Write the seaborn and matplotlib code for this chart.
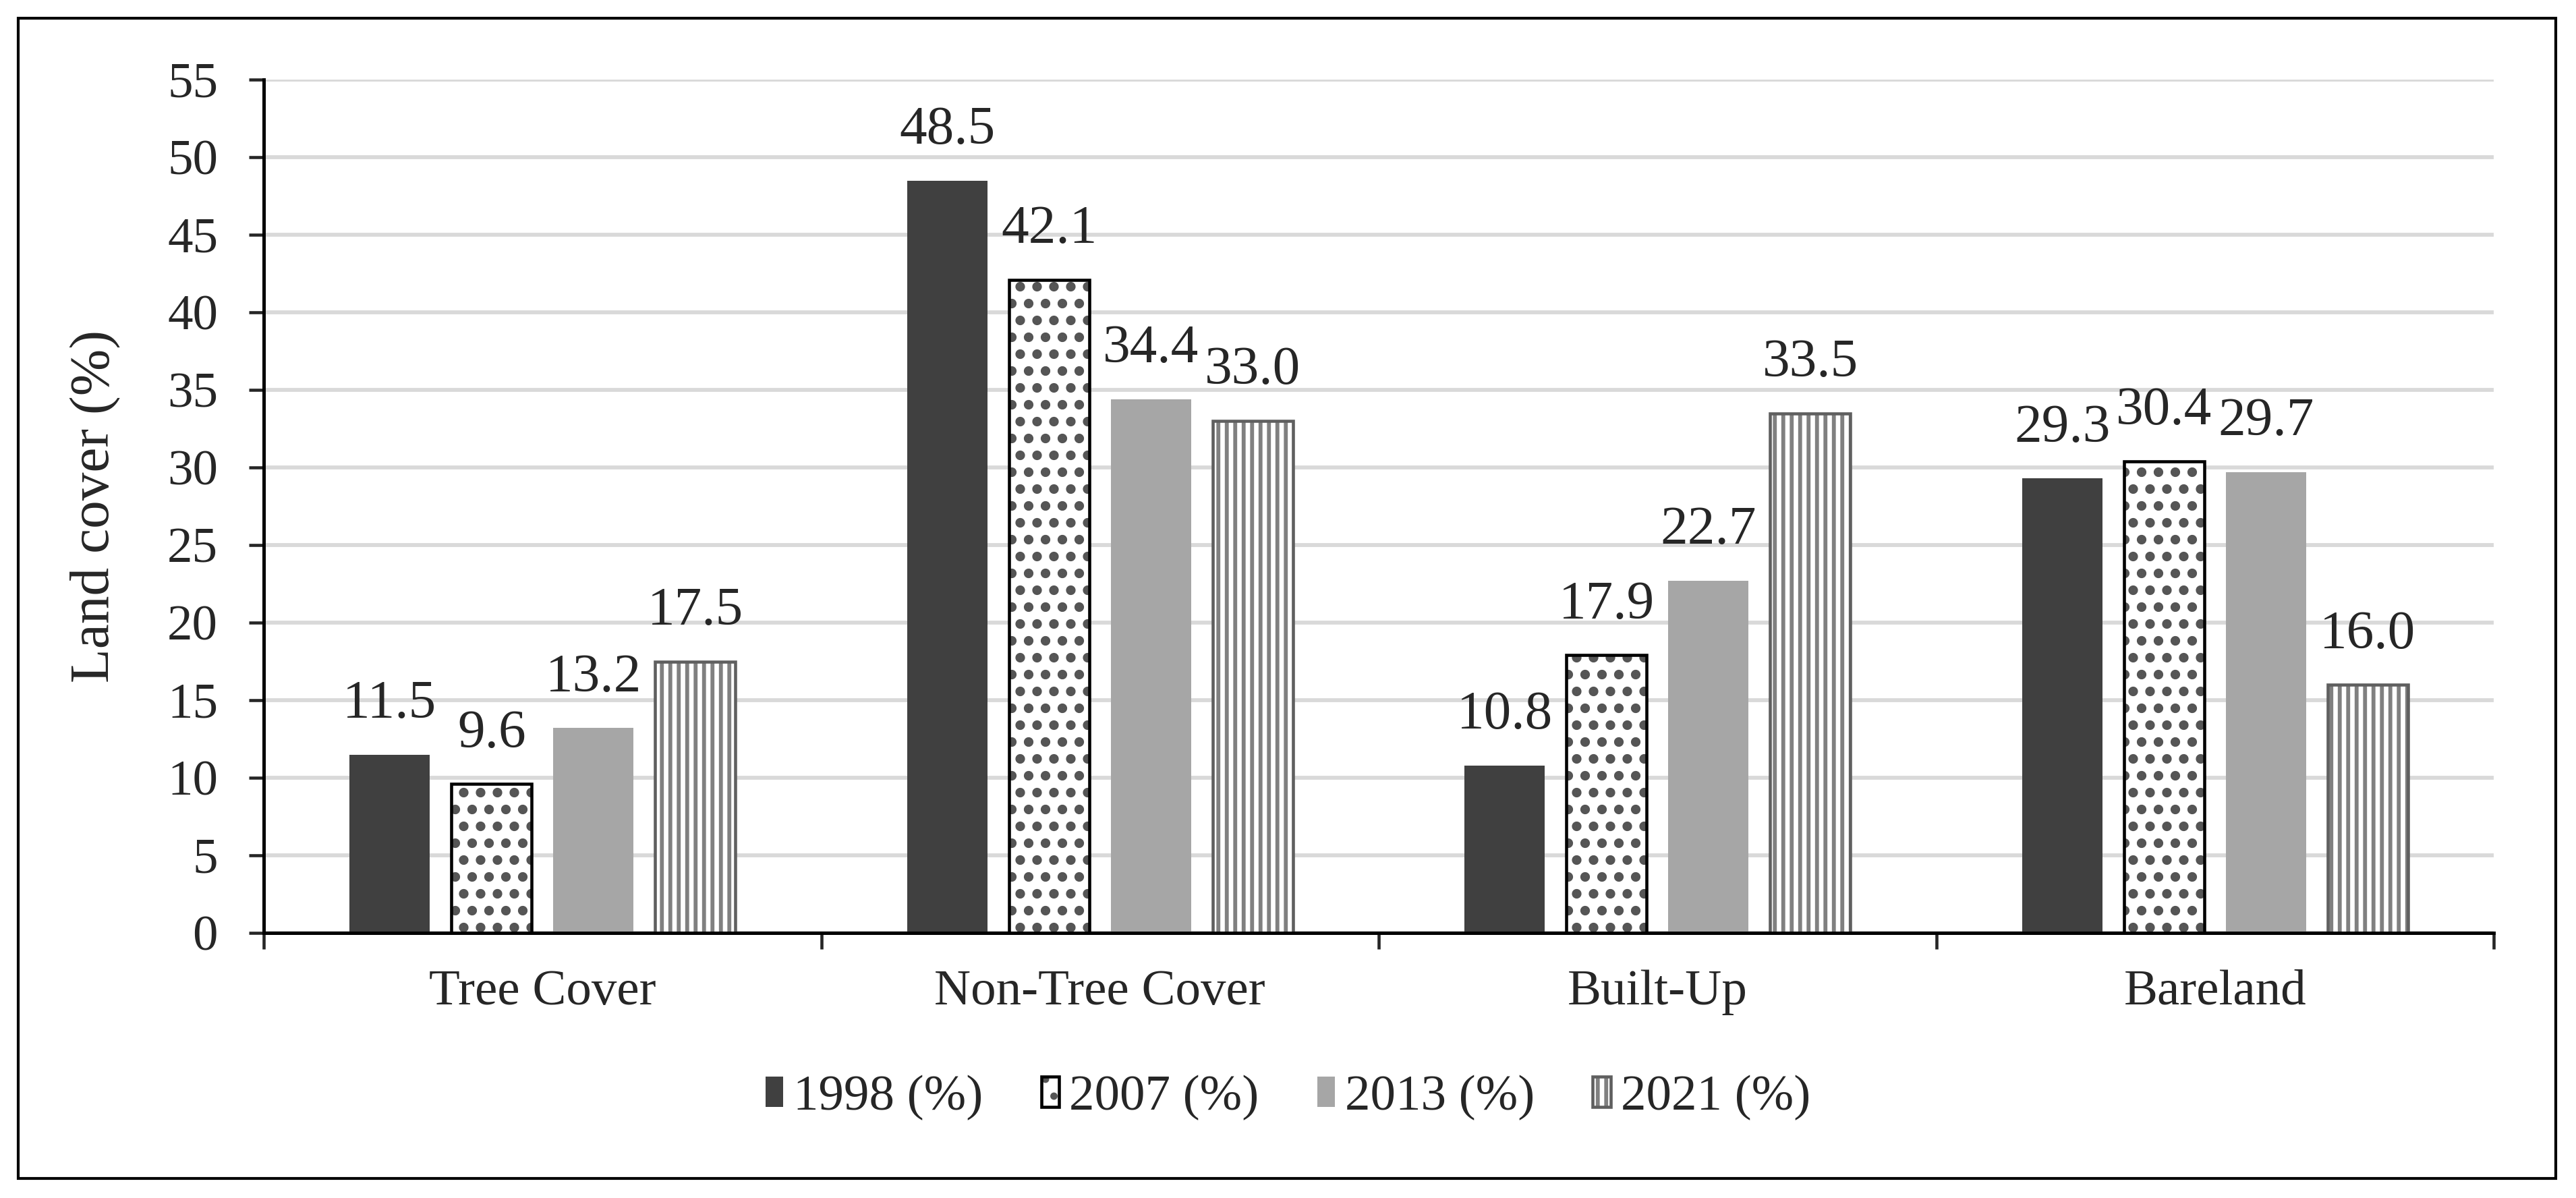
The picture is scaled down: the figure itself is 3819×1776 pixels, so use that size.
import pandas as pd
import numpy as np
import matplotlib
matplotlib.use("Agg")
import matplotlib.pyplot as plt
import matplotlib.patches as mpatches
from matplotlib.colors import to_rgba
import seaborn as sns

categories = ["Tree Cover", "Non-Tree Cover", "Built-Up", "Bareland"]
years = ["1998 (%)", "2007 (%)", "2013 (%)", "2021 (%)"]
v1998 = [11.5, 48.5, 10.8, 29.3]
v2007 = [9.6, 42.1, 17.9, 30.4]
v2013 = [13.2, 34.4, 22.7, 29.7]
v2021 = [17.5, 33.0, 33.5, 16.0]

df = pd.DataFrame({
    "Category": categories * 4,
    "Year": np.repeat(years, 4),
    "Value": v1998 + v2007 + v2013 + v2021,
})

sns.set_style("white")
plt.rcParams["font.family"] = ["Liberation Serif", "DejaVu Serif"]
plt.rcParams["hatch.linewidth"] = 1.4

face = {"1998 (%)": "#404040", "2007 (%)": "white", "2013 (%)": "#a6a6a6", "2021 (%)": "white"}
edge = {"1998 (%)": "#404040", "2007 (%)": "black", "2013 (%)": "#a6a6a6", "2021 (%)": "#5f5f5f"}
hatch = {"1998 (%)": "", "2007 (%)": "..", "2013 (%)": "", "2021 (%)": "||||"}
hatch_col = {"2007 (%)": "#555555", "2021 (%)": "#808080"}
hatch_lw = {"2007 (%)": 2.2, "2021 (%)": 1.4}
lw = {"1998 (%)": 0, "2007 (%)": 1.1, "2013 (%)": 0, "2021 (%)": 1.1}


def style_hatch(p, yr):
    if yr in hatch_col:
        p._hatch_color = to_rgba(hatch_col[yr])
        if hasattr(p, "set_hatch_linewidth"):
            p.set_hatch_linewidth(hatch_lw[yr])


fig = plt.figure(figsize=(3819 / 300, 1776 / 300), dpi=300)
ax = fig.add_axes([391 / 3819, 1 - 1383 / 1776, (3697 - 391) / 3819, (1383 - 118) / 1776])

sns.barplot(data=df, x="Category", y="Value", hue="Year", order=categories,
            hue_order=years, palette=face, width=0.731, gap=0.21,
            ax=ax, legend=False, zorder=3)

for cont, yr in zip(ax.containers, years):
    for bar in cont:
        bar.set_edgecolor(edge[yr])
        bar.set_linewidth(lw[yr])
        bar.set_hatch(hatch[yr])
        style_hatch(bar, yr)
    ax.bar_label(cont, fmt="%.1f", padding=9, fontsize=19.5)

ax.set_ylim(0, 55)
ax.set_yticks(range(0, 56, 5))
ax.set_xlim(-0.5, 3.5)
ax.set_xticks([-0.5, 0.5, 1.5, 2.5, 3.5])
ax.set_xticklabels([])
ax.set_xticks(range(4), minor=True)
ax.set_xticklabels(categories, minor=True, fontsize=18)
ax.tick_params(axis="x", which="minor", length=0, pad=13)
ax.tick_params(axis="x", which="major", length=5.8, width=1.1, direction="out", bottom=True)
ax.tick_params(axis="y", length=5.3, width=1.1, direction="out", left=True, labelsize=18, pad=11)

ax.grid(axis="y", color="#d9d9d9", linewidth=1.4, zorder=0)
ax.set_axisbelow(True)
for s in ["top", "right"]:
    ax.spines[s].set_visible(False)
for s in ["left", "bottom"]:
    ax.spines[s].set_linewidth(1.2)
    ax.spines[s].set_color("black")
    ax.spines[s].set_zorder(4)

ax.set_xlabel("")
ax.set_ylabel("Land cover (%)", fontsize=20)
ax.yaxis.set_label_coords(-0.064, 0.5)

handles = []
for yr in years:
    p = mpatches.Patch(facecolor=face[yr], edgecolor=edge[yr], hatch=hatch[yr],
                       linewidth=lw[yr], label=yr)
    style_hatch(p, yr)
    handles.append(p)
fig.legend(handles=handles, loc="center", bbox_to_anchor=(0.5, 1 - 1627 / 1776),
           ncol=4, frameon=False, fontsize=18, handlelength=0.35, handleheight=0.55,
           handletextpad=0.2, columnspacing=1.15)

fig.patches.append(mpatches.Rectangle((27 / 3819, 1 - 1747 / 1776),
                                      (3789 - 27) / 3819, (1747 - 27) / 1776,
                                      transform=fig.transFigure, fill=False,
                                      edgecolor="black", linewidth=1.0))

fig.savefig("out.png", dpi=300)
